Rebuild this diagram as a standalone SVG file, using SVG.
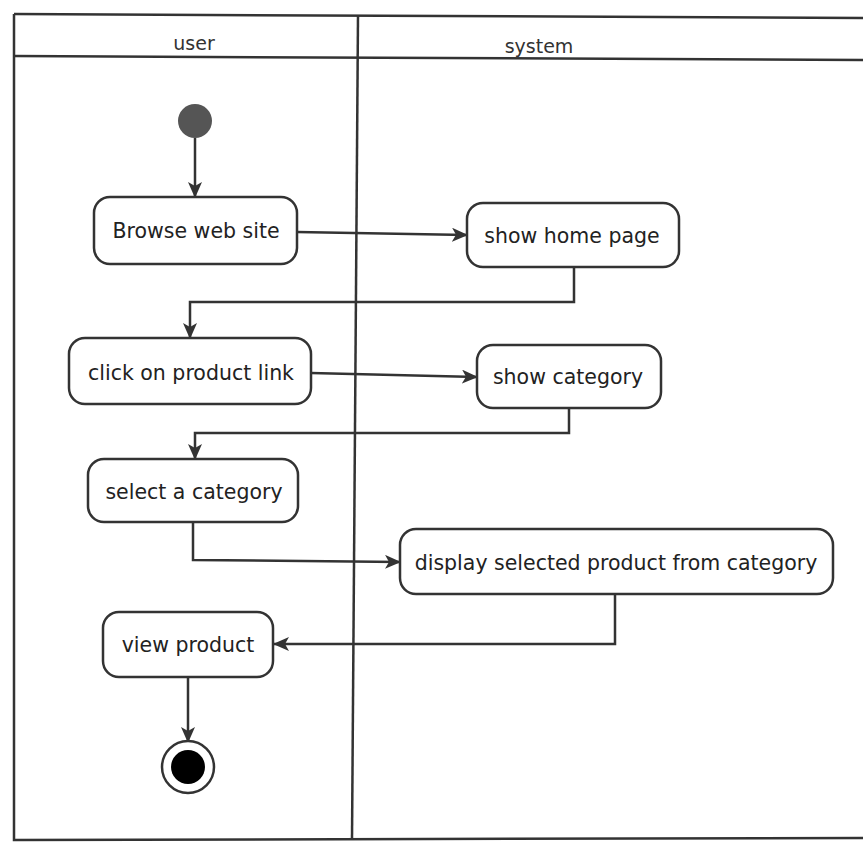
<svg xmlns="http://www.w3.org/2000/svg" width="863" height="844" viewBox="0 0 863 844">
<style>
.frame{fill:none;stroke:#333;stroke-width:2.5}
.node{fill:#fff;stroke:#333;stroke-width:2.5}
.lbl{font-family:"DejaVu Sans",sans-serif;font-size:20.5px;fill:#222;text-anchor:middle;dominant-baseline:central}
.hdr{font-family:"DejaVu Sans",sans-serif;font-size:19px;fill:#333;text-anchor:middle;dominant-baseline:central}
.edge{fill:none;stroke:#333;stroke-width:2.5}
</style>
<defs>
<marker id="arr" markerWidth="16" markerHeight="14" refX="15" refY="7" orient="auto" markerUnits="userSpaceOnUse">
<path d="M0,0 L16,7 L0,14 L4,7 Z" fill="#333"/>
</marker>
</defs>
<rect width="863" height="844" fill="#fff"/>
<g id="lanes">
<path class="frame" d="M14,14 L863,18"/>
<path class="frame" d="M14,56 L863,60"/>
<path class="frame" d="M14,14 L14,840 L863,838"/>
<path class="frame" d="M358,15 L352,840"/>
<text class="hdr" x="194" y="43">user</text>
<text class="hdr" x="539" y="46">system</text>
</g>
<g id="edges">
<path class="edge" d="M195,138 L195,197" marker-end="url(#arr)"/>
<path class="edge" d="M297,232 L467,235" marker-end="url(#arr)"/>
<path class="edge" d="M574,267 L574,302 L190,302 L190,338" marker-end="url(#arr)"/>
<path class="edge" d="M311,373 L477,377" marker-end="url(#arr)"/>
<path class="edge" d="M569,408 L569,433 L195,433 L195,459" marker-end="url(#arr)"/>
<path class="edge" d="M193,522 L193,560 L400,562" marker-end="url(#arr)"/>
<path class="edge" d="M615,594 L615,644 L274,644" marker-end="url(#arr)"/>
<path class="edge" d="M188,677 L188,742" marker-end="url(#arr)"/>
</g>
<g id="start"><circle cx="195" cy="121" r="17" fill="#555"/></g>
<g id="browse"><rect class="node" x="94" y="197" width="203" height="67" rx="16"/><text class="lbl" x="196" y="231">Browse web site</text></g>
<g id="home"><rect class="node" x="467" y="203" width="212" height="64" rx="16"/><text class="lbl" x="572" y="236">show home page</text></g>
<g id="click"><rect class="node" x="69" y="338" width="242" height="66" rx="16"/><text class="lbl" x="191" y="373">click on product link</text></g>
<g id="category"><rect class="node" x="477" y="345" width="184" height="63" rx="16"/><text class="lbl" x="568" y="377">show category</text></g>
<g id="select"><rect class="node" x="88" y="459" width="210" height="63" rx="16"/><text class="lbl" x="194" y="492">select a category</text></g>
<g id="display"><rect class="node" x="400" y="529" width="433" height="65" rx="16"/><text class="lbl" x="616" y="563">display selected product from category</text></g>
<g id="view"><rect class="node" x="103" y="612" width="170" height="65" rx="16"/><text class="lbl" x="188" y="645">view product</text></g>
<g id="end"><circle cx="188" cy="767" r="26" fill="#fff" stroke="#333" stroke-width="2.5"/><circle cx="188" cy="767" r="17" fill="#000"/></g>
</svg>
